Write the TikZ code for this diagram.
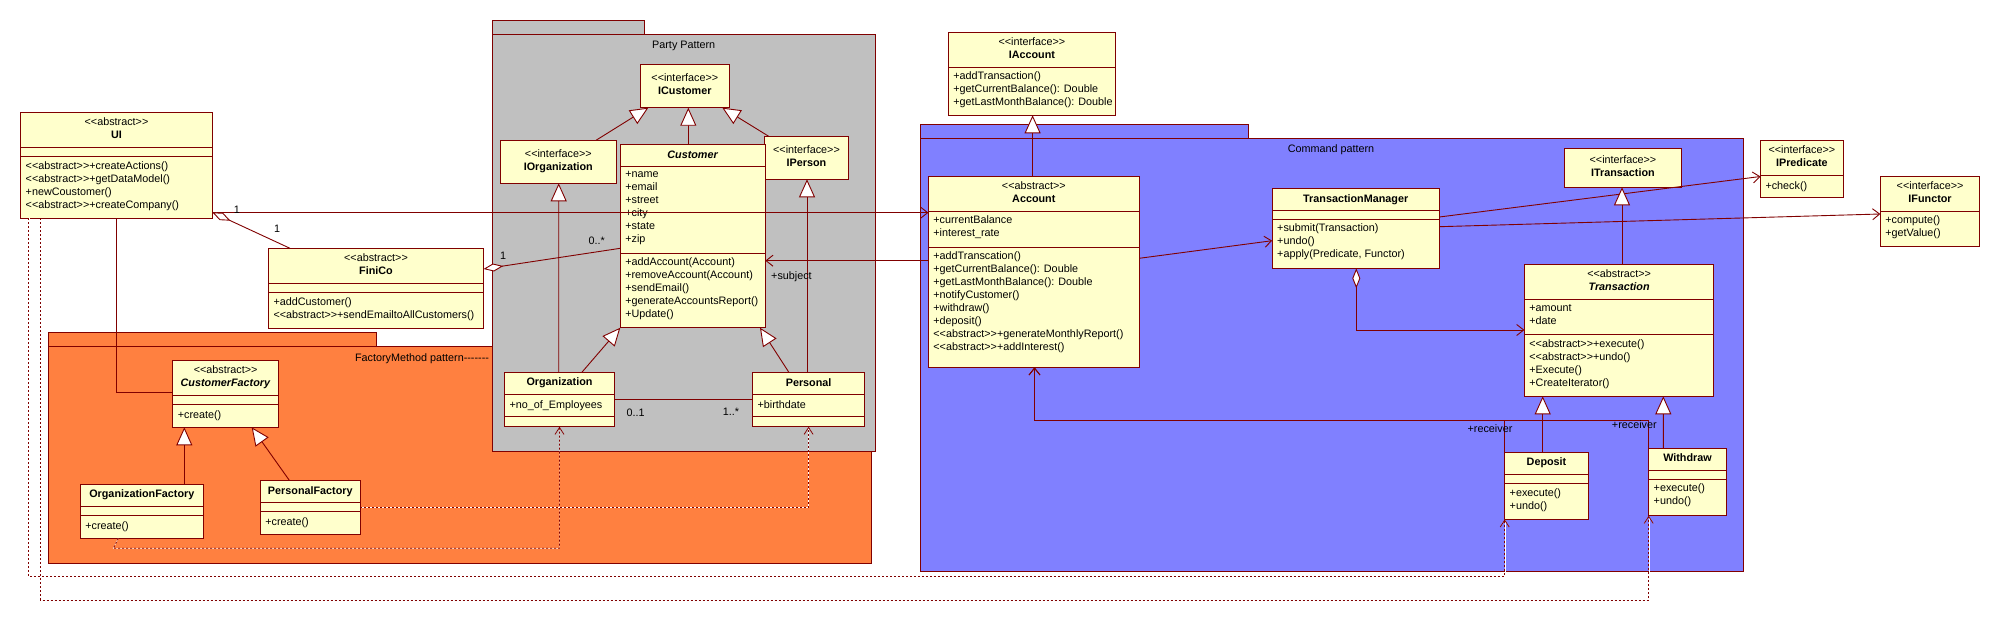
\documentclass[tikz,border=0pt]{standalone}
\usepackage{fontspec}
\setmainfont{Liberation Sans}[Ligatures=TeXOff]
\usetikzlibrary{arrows.meta}

\definecolor{umlred}{RGB}{128,0,0}
\definecolor{umlyellow}{RGB}{255,255,204}
\definecolor{pkggray}{RGB}{192,192,192}
\definecolor{pkgorange}{RGB}{255,128,64}
\definecolor{pkgblue}{RGB}{128,128,255}

% class box: name, corner, width, height, header height, attribute height, header, attributes, operations
\newcommand{\umlclass}[9]{%
    \node[classbox, minimum width=#3pt, minimum height=#4pt] (#1) at (#2) {};
    \draw[classsep] ([yshift=-#5pt]#1.north west) -- ([yshift=-#5pt]#1.north east);
    \draw[classsep] ([yshift=-#5pt-#6pt]#1.north west) -- ([yshift=-#5pt-#6pt]#1.north east);
    \node[classhead, minimum height=#5pt] (#1-head) at (#1.north) {#7};
    \node[classtext] (#1-attr) at ([yshift=-#5pt]#1.north west) {#8};
    \node[classtext] (#1-ops) at ([yshift=-#5pt-#6pt]#1.north west) {#9};
}

\begin{document}
\begin{tikzpicture}[x=1pt, y=-1pt,
        every node/.style={font=\fontsize{10.8}{13}\selectfont},
        classbox/.style={draw=umlred, fill=umlyellow, line width=1pt, anchor=north west, inner sep=0pt, outer sep=0pt},
        ifacebox/.style={classbox, align=center, execute at begin node=\strut, execute at end node=\strut},
        classsep/.style={draw=umlred, line width=1pt},
        classhead/.style={anchor=north, inner sep=0pt, outer sep=0pt, align=center, execute at begin node=\strut, execute at end node=\strut},
        classtext/.style={anchor=north west, inner xsep=5pt, inner ysep=4.8pt, outer sep=0pt, align=left, execute at begin node=\strut},
        package/.style={draw=umlred, line width=1pt, anchor=north west, inner sep=0pt, outer sep=0pt},
        mult/.style={inner sep=0pt},
        assoc/.style={draw=umlred, line width=0.9pt},
        nav/.style={assoc, -{Straight Barb[length=7pt, width=11pt]}},
        gen/.style={assoc, -{Triangle[fill=white, length=18pt, width=16pt]}},
        aggr/.style={assoc, {Diamond[fill=white, length=20pt, width=8pt]}-},
        aggrnav/.style={assoc, {Diamond[fill=white, length=20pt, width=8pt]}-{Straight Barb[length=7pt, width=11pt]}},
        dep/.style={draw=umlred, line width=0.8pt, dash pattern=on 2pt off 2pt, preaction={draw=white, solid}, -{Straight Barb[length=7pt, width=9pt]}}]

    \path[fill=white, use as bounding box] (0,0) rectangle (2000,621);

    % packages
    \node[package, fill=pkgorange, minimum width=327.8pt, minimum height=14pt] (factorytab) at (48.8,332.3) {};
    \node[package, fill=pkgorange, minimum width=822.6pt, minimum height=217pt] (factorypkg) at (48.8,346.3) {};
    \node[anchor=east] (factoryname) at (492.5,358.3) {FactoryMethod pattern-------};

    \node[package, fill=pkggray, minimum width=152pt, minimum height=14pt] (partytab) at (492.3,20.3) {};
    \node[package, fill=pkggray, minimum width=382.8pt, minimum height=416.7pt] (partypkg) at (492.5,34.3) {};
    \node (partyname) at (683.7,46) {Party Pattern};

    \node[package, fill=pkgblue, minimum width=328pt, minimum height=13.7pt] (commandtab) at (920.3,124.3) {};
    \node[package, fill=pkgblue, minimum width=822.8pt, minimum height=433pt] (commandpkg) at (920.5,138) {};
    \node (commandname) at (1331,150) {Command pattern};

    % classes
    \umlclass{ui}{20.7,112.7}{191.6}{105.6}{34.6}{9.4}{<<abstract>>\\\textbf{UI}}{}{<<abstract>>+createActions()\\<<abstract>>+getDataModel()\\+newCoustomer()\\<<abstract>>+createCompany()}
    \umlclass{finico}{268.5,248.3}{215}{80}{35}{9.4}{<<abstract>>\\\textbf{FiniCo}}{}{+addCustomer()\\<<abstract>>+sendEmailtoAllCustomers()}

    \node[ifacebox, minimum width=89pt, minimum height=43.4pt] (icustomer) at (640.3,64.3) {<<interface>>\\\textbf{ICustomer}};
    \node[ifacebox, minimum width=116pt, minimum height=43pt] (iorganization) at (500.3,140.3) {<<interface>>\\\textbf{IOrganization}};
    \node[ifacebox, minimum width=84.4pt, minimum height=43pt] (iperson) at (764.3,136.3) {<<interface>>\\\textbf{IPerson}};
    \umlclass{customer}{620.3,144.7}{145}{183}{21.6}{87}{\textbf{\textit{Customer}}}{+name\\+email\\+street\\+city\\+state\\+zip}{+addAccount(Account)\\+removeAccount(Account)\\+sendEmail()\\+generateAccountsReport()\\+Update()}
    \umlclass{organization}{504.6,372.5}{109.8}{54.2}{21.6}{22.6}{\textbf{Organization}}{+no\_of\_Employees}{}
    \umlclass{personal}{752.6,372.5}{112}{54.2}{21.8}{22.4}{\textbf{Personal}}{+birthdate}{}

    \umlclass{custfactory}{172.8,360.7}{105.6}{66.6}{34.6}{9}{<<abstract>>\\\textbf{\textit{CustomerFactory}}}{}{+create()}
    \umlclass{orgfactory}{80.3,484.3}{123}{54}{22}{9.4}{\textbf{OrganizationFactory}}{}{+create()}
    \umlclass{persfactory}{260.3,480.3}{100}{54}{22.4}{9}{\textbf{PersonalFactory}}{}{+create()}

    \umlclass{iaccount}{948.4,32.3}{167}{83}{35}{0}{<<interface>>\\\textbf{IAccount}}{}{+addTransaction()\\+getCurrentBalance(): Double\\+getLastMonthBalance(): Double}
    \umlclass{account}{928.4,176.3}{210.8}{191}{35}{35.7}{<<abstract>>\\\textbf{Account}}{+currentBalance\\+interest\_rate}{+addTranscation()\\+getCurrentBalance(): Double\\+getLastMonthBalance(): Double\\+notifyCustomer()\\+withdraw()\\+deposit()\\<<abstract>>+generateMonthlyReport()\\<<abstract>>+addInterest()}
    \umlclass{transmanager}{1272.2,188.3}{167}{80}{22.4}{8.6}{\textbf{TransactionManager}}{}{+submit(Transaction)\\+undo()\\+apply(Predicate, Functor)}
    \node[ifacebox, minimum width=116.7pt, minimum height=39pt] (itransaction) at (1564.6,148.3) {<<interface>>\\\textbf{ITransaction}};
    \umlclass{transaction}{1524.4,264.3}{189.4}{132}{35}{35.4}{<<abstract>>\\\textbf{\textit{Transaction}}}{+amount\\+date}{<<abstract>>+execute()\\<<abstract>>+undo()\\+Execute()\\+CreateIterator()}
    \umlclass{deposit}{1504.7,452.3}{83.6}{67}{22}{9.4}{\textbf{Deposit}}{}{+execute()\\+undo()}
    \umlclass{withdraw}{1648.7,448.3}{77.6}{67.4}{22}{9}{\textbf{Withdraw}}{}{+execute()\\+undo()}
    \umlclass{ipredicate}{1760.5,140.7}{82.7}{56.6}{34.6}{0}{<<interface>>\\\textbf{IPredicate}}{}{+check()}
    \umlclass{ifunctor}{1880.3,176.7}{99.5}{70}{34.6}{0}{<<interface>>\\\textbf{IFunctor}}{}{+compute()\\+getValue()}

    % party pattern
    \draw[gen] ([xshift=95.7pt]iorganization.north west) -- ([xshift=8pt]icustomer.south west);
    \draw[gen] ([xshift=68pt]customer.north west) -- ([xshift=48pt]icustomer.south west);
    \draw[gen] ([xshift=4.4pt]iperson.north west) -- ([xshift=82pt]icustomer.south west);
    \draw[gen] ([xshift=77.1pt]organization.north west) -- (customer.south west);
    \draw[gen] ([xshift=36.4pt]personal.north west) -- ([xshift=-5.3pt]customer.south east);
    \draw[gen] ([xshift=54.1pt]organization.north west) -- ([xshift=58.4pt]iorganization.south west);
    \draw[gen] ([xshift=54.4pt]personal.north west) -- ([xshift=42.7pt]iperson.south west);
    \draw[assoc] ([yshift=-26.8pt]organization.north east) -- ([yshift=-26.8pt]personal.north west);

    % factory method pattern
    \draw[assoc] ([xshift=95.8pt]ui.south west) |- ([yshift=-31.6pt]custfactory.north west);
    \draw[gen] ([xshift=104pt]orgfactory.north west) -- ([xshift=11.5pt]custfactory.south west);
    \draw[gen] ([xshift=29pt]persfactory.north west) -- ([xshift=78.9pt]custfactory.south west);
    \draw[dep] ([xshift=38pt]orgfactory.south west) -- ([xshift=33pt, yshift=-10pt]orgfactory.south west) -| (organization.south);
    \draw[dep] ([yshift=-27pt]persfactory.north east) -| (personal.south);

    % UI and FiniCo
    \draw[nav] ([yshift=-100pt]ui.north east) -- ([yshift=-36.4pt]account.north west);
    \draw[aggr] ([yshift=6pt]ui.south east) -- ([xshift=21.5pt]finico.north west);
    \draw[aggr] ([yshift=-20.7pt]finico.north east) -- ([yshift=-103.6pt]customer.north west);
    \draw[dep] ([xshift=8pt]ui.south west) |- ([yshift=-57.4pt]deposit.south west) -- (deposit.south west);
    \draw[dep] ([xshift=19.6pt]ui.south west) |- ([yshift=-84.3pt]withdraw.south west) -- (withdraw.south west);

    % command pattern
    \draw[nav] ([yshift=-84.4pt]account.north west) -- ([yshift=-116pt]customer.north east);
    \draw[gen] ([xshift=104.2pt]account.north west) -- ([xshift=84.2pt]iaccount.south west);
    \draw[nav] ([yshift=-82pt]account.north east) -- ([yshift=-52.4pt]transmanager.north west);
    \draw[aggrnav] ([xshift=84.1pt]transmanager.south west) |- ([yshift=-65.7pt]transaction.north west);
    \draw[nav] ([yshift=-28.7pt]transmanager.north east) -- ([yshift=-35.8pt]ipredicate.north west);
    \draw[nav] ([yshift=-38.4pt]transmanager.north east) -- ([yshift=-37.3pt]ifunctor.north west);
    \draw[gen] ([xshift=97.6pt]transaction.north west) -- ([xshift=57.4pt]itransaction.south west);
    \draw[gen] ([xshift=38pt]deposit.north west) -- ([xshift=18.3pt]transaction.south west);
    \draw[gen] ([xshift=14.6pt]withdraw.north west) -- ([xshift=138.9pt]transaction.south west);
    \draw[nav] (deposit.north west) -- ([yshift=31.8pt]deposit.north west) -| ([xshift=106.1pt]account.south west);
    \draw[nav] (withdraw.north west) -- ([yshift=27.8pt]withdraw.north west) -| ([xshift=106.1pt]account.south west);

    % role names and multiplicities
    \node[mult] (uiaccount-m) at (237,210) {1};
    \node[mult] (uifinico-m) at (277,229) {1};
    \node[mult] (finicocust-m) at (503,256) {1};
    \node[mult] (custfinico-m) at (596.7,240.5) {0..*};
    \node[mult] (orgpers-m) at (635.6,412.3) {0..1};
    \node[mult] (persorg-m) at (731,412) {1..*};
    \node[mult, anchor=west] (subject-r) at (771,277) {+subject};
    \node[mult] (deposit-r) at (1490,428.3) {+receiver};
    \node[mult] (withdraw-r) at (1634.3,424.3) {+receiver};
\end{tikzpicture}
\end{document}
